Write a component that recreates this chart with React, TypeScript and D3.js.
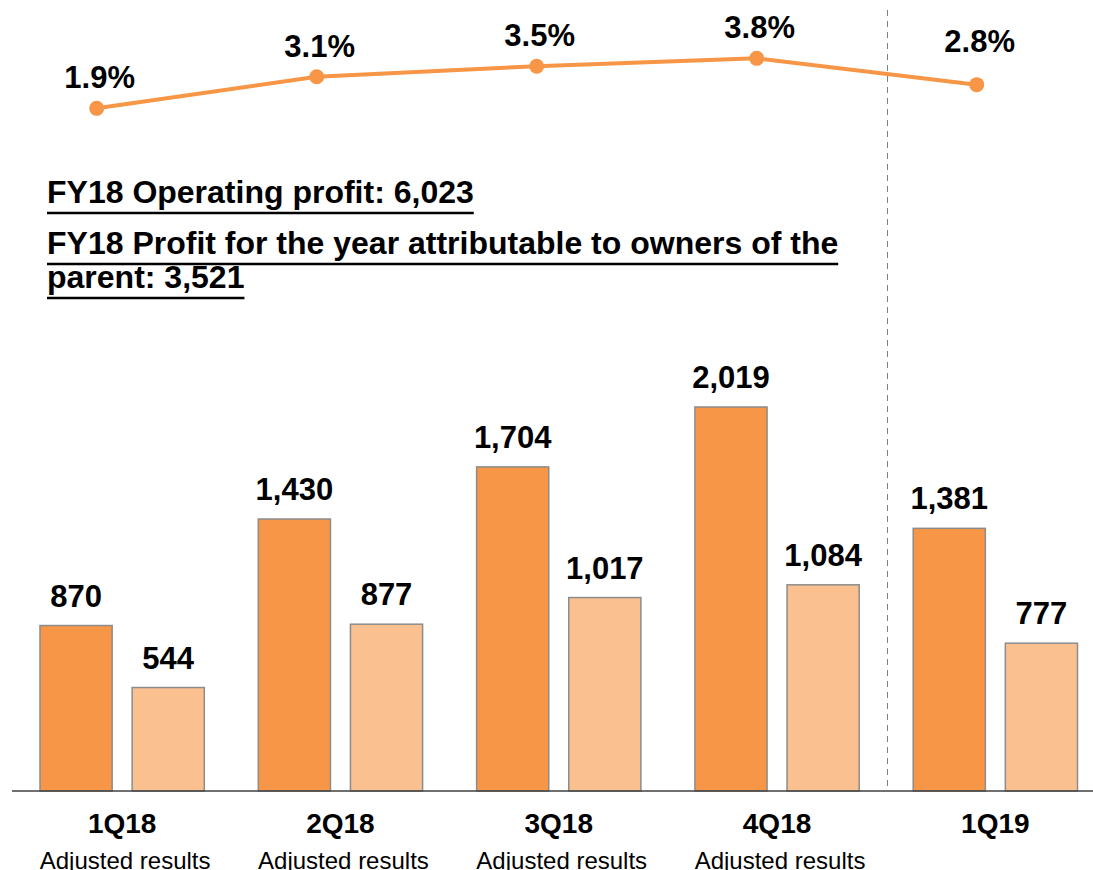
import React, { useRef, useEffect } from 'react';
import * as d3 from 'd3';

const quarters = ['1Q18', '2Q18', '3Q18', '4Q18', '1Q19'];
const subLabels = ['Adjusted results', 'Adjusted results', 'Adjusted results', 'Adjusted results', ''];
const operatingProfit = [870, 1430, 1704, 2019, 1381];
const netProfit = [544, 877, 1017, 1084, 777];
const marginPct = [1.9, 3.1, 3.5, 3.8, 2.8];
const titles = [
  'FY18 Operating profit: 6,023',
  'FY18 Profit for the year attributable to owners of the',
  'parent: 3,521',
];

const W = 1093;
const H = 870;
const FONT = '"Liberation Sans", Arial, Helvetica, sans-serif';

function App() {
  const svgRef = useRef<SVGSVGElement>(null);

  useEffect(() => {
    const svg = d3.select(svgRef.current);
    svg.selectAll('*').remove();

    const baseline = 791;

    // group + bar scales
    const x0 = d3.scaleBand().domain(quarters).range([13, 1104.5]).paddingInner(0.2474).paddingOuter(0.1237);
    const x1 = d3.scaleBand().domain(['op', 'net']).range([0, x0.bandwidth()]).paddingInner(0.217);
    const y = d3.scaleLinear().domain([0, 2500]).range([baseline, baseline - 2500 * 0.1902]);

    // line scales
    const xl = d3.scalePoint().domain(quarters).range([96.7, 976.7]);
    const yl = d3.scaleLinear().domain([0, 4]).range([158.3, 53.1]);

    // dashed separator
    svg.append('line')
      .attr('x1', 887.5).attr('x2', 887.5)
      .attr('y1', 10).attr('y2', baseline)
      .attr('stroke', '#7f7f7f').attr('stroke-width', 1)
      .attr('stroke-dasharray', '6,5');

    // bars
    const series = [
      { key: 'op', values: operatingProfit, fill: '#F79646' },
      { key: 'net', values: netProfit, fill: '#FAC090' },
    ];
    series.forEach((s) => {
      const g = svg.append('g');
      g.selectAll('rect')
        .data(s.values)
        .join('rect')
        .attr('x', (d, i) => (x0(quarters[i]) || 0) + (x1(s.key) || 0))
        .attr('y', (d) => y(d))
        .attr('width', x1.bandwidth())
        .attr('height', (d) => baseline - y(d))
        .attr('fill', s.fill)
        .attr('stroke', '#8c8c8c')
        .attr('stroke-width', 1.5);
      g.selectAll('text')
        .data(s.values)
        .join('text')
        .attr('x', (d, i) => (x0(quarters[i]) || 0) + (x1(s.key) || 0) + x1.bandwidth() / 2)
        .attr('y', (d) => y(d) - 19)
        .attr('text-anchor', 'middle')
        .attr('font-family', FONT)
        .attr('font-weight', 'bold')
        .attr('font-size', 31)
        .attr('fill', '#000')
        .text((d) => d3.format(',')(d));
    });

    // axis line
    svg.append('line')
      .attr('x1', 12).attr('x2', W)
      .attr('y1', baseline).attr('y2', baseline)
      .attr('stroke', '#404040').attr('stroke-width', 1.6);

    // category labels
    svg.append('g').selectAll('text')
      .data(quarters)
      .join('text')
      .attr('x', (d) => (x0(d) || 0) + x0.bandwidth() / 2)
      .attr('y', 833)
      .attr('text-anchor', 'middle')
      .attr('font-family', FONT)
      .attr('font-weight', 'bold')
      .attr('font-size', 28)
      .attr('fill', '#000')
      .text((d) => d);

    svg.append('g').selectAll('text')
      .data(subLabels)
      .join('text')
      .attr('x', (d, i) => (x0(quarters[i]) || 0) + x0.bandwidth() / 2 + 3)
      .attr('y', 869)
      .attr('text-anchor', 'middle')
      .attr('font-family', FONT)
      .attr('font-size', 24)
      .attr('fill', '#000')
      .text((d) => d);

    // margin line
    const line = d3.line<number>()
      .x((d, i) => xl(quarters[i]) || 0)
      .y((d) => yl(d));
    svg.append('path')
      .datum(marginPct)
      .attr('d', line)
      .attr('fill', 'none')
      .attr('stroke', '#F79646')
      .attr('stroke-width', 4);
    svg.append('g').selectAll('circle')
      .data(marginPct)
      .join('circle')
      .attr('cx', (d, i) => xl(quarters[i]) || 0)
      .attr('cy', (d) => yl(d))
      .attr('r', 7.5)
      .attr('fill', '#F79646');
    svg.append('g').selectAll('text')
      .data(marginPct)
      .join('text')
      .attr('x', (d, i) => (xl(quarters[i]) || 0) + 3)
      .attr('y', (d, i) => yl(d) - (i === quarters.length - 1 ? 33 : 20))
      .attr('text-anchor', 'middle')
      .attr('font-family', FONT)
      .attr('font-weight', 'bold')
      .attr('font-size', 31)
      .attr('fill', '#000')
      .text((d) => d.toFixed(1) + '%');

    // underlined titles
    const titleY = [203, 254, 288];
    titles.forEach((t, i) => {
      const txt = svg.append('text')
        .attr('x', 47)
        .attr('y', titleY[i])
        .attr('font-family', FONT)
        .attr('font-weight', 'bold')
        .attr('font-size', 32)
        .attr('fill', '#000')
        .text(t);
      const len = (txt.node() as SVGTextElement).getComputedTextLength();
      svg.append('line')
        .attr('x1', 47).attr('x2', 47 + len)
        .attr('y1', titleY[i] + 10).attr('y2', titleY[i] + 10)
        .attr('stroke', '#000').attr('stroke-width', 2.5);
    });
  }, []);

  return (
    <svg
      ref={svgRef}
      width={W}
      height={H}
      style={{ position: 'absolute', left: 0, top: 0, background: '#fff' }}
    />
  );
}

export default App;
